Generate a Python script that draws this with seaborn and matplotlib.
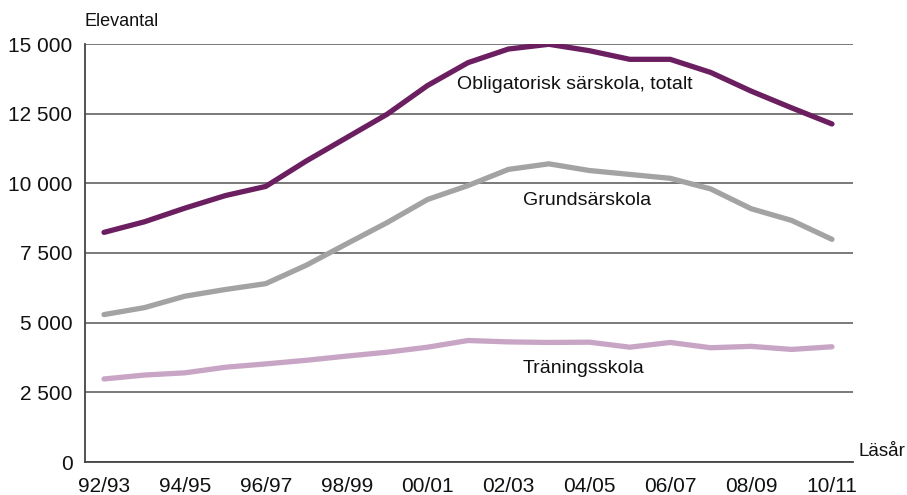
import numpy as np
import pandas as pd
import matplotlib.pyplot as plt
import seaborn as sns

# Läsår och elevantal
lasar = ["92/93", "93/94", "94/95", "95/96", "96/97", "97/98", "98/99", "99/00", "00/01", "01/02",
         "02/03", "03/04", "04/05", "05/06", "06/07", "07/08", "08/09", "09/10", "10/11"]
totalt = [8240, 8620, 9110, 9560, 9890, 10800, 11640, 12480, 13510, 14330,
          14820, 14990, 14760, 14450, 14450, 13980, 13310, 12710, 12130]
grundsarskola = [5290, 5540, 5950, 6190, 6400, 7060, 7830, 8590, 9420, 9920,
                 10500, 10700, 10460, 10320, 10180, 9800, 9090, 8670, 7990]
traningsskola = [2980, 3120, 3200, 3400, 3520, 3650, 3800, 3940, 4120, 4360,
                 4310, 4290, 4300, 4120, 4290, 4100, 4150, 4040, 4135]

serier = ["Obligatorisk särskola, totalt", "Grundsärskola", "Träningsskola"]
farger = ["#6b1f60", "#a3a3a3", "#c9a5c5"]

# Long-form tabell för seaborn
df = pd.DataFrame({
    "pos": list(range(len(lasar))) * 3,
    "Elevantal": totalt + grundsarskola + traningsskola,
    "Serie": [serier[0]] * len(lasar) + [serier[1]] * len(lasar) + [serier[2]] * len(lasar),
})

sns.set_style("white")
plt.rcParams["font.family"] = ["Liberation Sans", "DejaVu Sans"]

fig = plt.figure(figsize=(9.07, 4.95), dpi=100)
ax = fig.add_axes([85 / 907, 33 / 495, 768 / 907, 418 / 495])

sns.lineplot(data=df, x="pos", y="Elevantal", hue="Serie", palette=dict(zip(serier, farger)),
             linewidth=3.8, legend=False, ax=ax, solid_capstyle="round")

ax.set_xlim(-0.47, 18.52)
ax.set_ylim(0, 15000)

# Rutnät
ax.set_yticks(np.arange(0, 15001, 2500))
ax.set_yticklabels([f"{int(v):,}".replace(",", " ") for v in np.arange(0, 15001, 2500)])
ax.yaxis.grid(True, color="#555555", linewidth=1.1)
ax.set_axisbelow(True)
ax.tick_params(axis="y", length=0, pad=9, labelsize=15, labelcolor="#111111")

# x-axel: streck varje år, etikett vartannat
ax.set_xticks(range(len(lasar)))
ax.set_xticklabels([l if i % 2 == 0 else "" for i, l in enumerate(lasar)])
ax.tick_params(axis="x", direction="in", length=7.5, width=1, color="#666666",
               pad=11, labelsize=15, labelcolor="#111111")

for side in ["top", "right"]:
    ax.spines[side].set_visible(False)
for side in ["left", "bottom"]:
    ax.spines[side].set_color("#444444")
    ax.spines[side].set_linewidth(1.3)

ax.set_xlabel("")
ax.set_ylabel("")

# Serieetiketter
ax.text(8.73, 13540, serier[0], fontsize=14, va="center", ha="left", color="#111111")
ax.text(10.36, 9380, serier[1], fontsize=14, va="center", ha="left", color="#111111")
ax.text(10.36, 3340, serier[2], fontsize=14, va="center", ha="left", color="#111111")

fig.text(84 / 907, 1 - 22 / 495, "Elevantal", fontsize=13, va="center", ha="left", color="#111111")
fig.text(859 / 907, 1 - 456 / 495, "Läsår", fontsize=13.5, va="baseline", ha="left", color="#111111")

fig.savefig("out.png", dpi=100)
